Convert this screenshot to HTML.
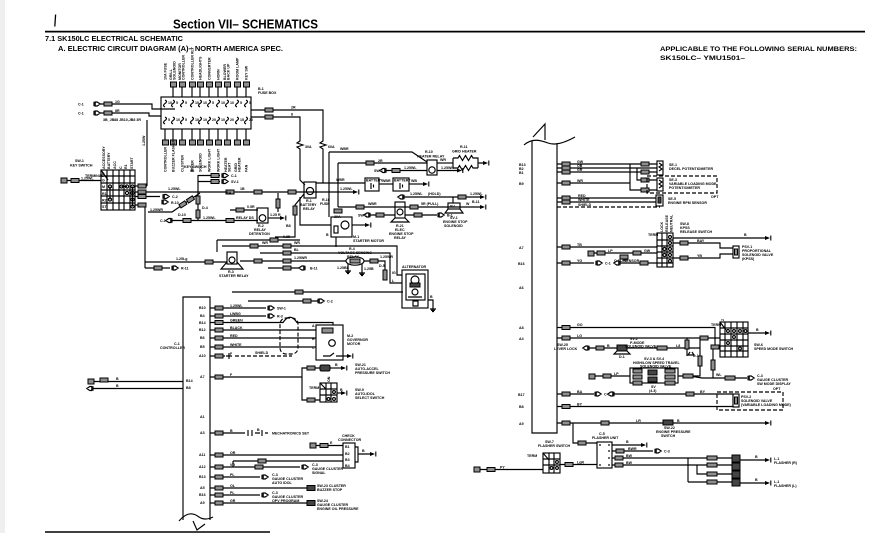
<!DOCTYPE html>
<html><head><meta charset="utf-8">
<style>
html,body{margin:0;padding:0;background:#fff}
body{width:894px;height:533px;overflow:hidden}
svg{display:block}
.w{stroke:#000;stroke-width:1.15;fill:none}
.d{stroke-dasharray:4 2}
.b{fill:#8f8f8f;stroke:#000;stroke-width:1}
.k{fill:#444;stroke:#000;stroke-width:1}
.s{font-family:"Liberation Sans",sans-serif;font-weight:bold;font-size:3.6px;fill:#000}
.m{font-family:"Liberation Sans",sans-serif;font-weight:bold;font-size:4px;fill:#000}
.h{font-family:"Liberation Sans",sans-serif;font-weight:bold;fill:#000}
</style></head><body>
<svg width="894" height="533" viewBox="0 0 894 533" xmlns="http://www.w3.org/2000/svg">
<defs>
<g id="cn" class="w"><path d="M0,-2.2V2.2M1.2,-2h2l3,2-3,2h-2z" fill="#fff"/></g>
<g id="cl" class="w"><path d="M0,-2.2V2.2M-1.2,-2h-2l-3,2 3,2h2z" fill="#fff"/></g>
<g id="ar"><path d="M-5,-2L0,0-5,2z" fill="#000"/><path d="M.8,-2.5V2.5" stroke="#000" stroke-width="1.1"/></g>
<g id="gd" class="w"><path d="M0,0V3M-3,3H3M-2,4.3H2M-1,5.5H1"/></g>
</defs>
<rect x="0" y="0" width="5" height="533" fill="#efefef"/>

<!-- HEADER -->
<path d="M55.6,14.5L54.8,26.5" stroke="#000" stroke-width="1.3"/>
<text class="h" x="173" y="28.3" font-size="12.5" textLength="145" lengthAdjust="spacingAndGlyphs">Section VII– SCHEMATICS</text>
<line x1="45" y1="31.6" x2="865" y2="31.6" stroke="#000" stroke-width="1.7"/>
<text class="h" x="45" y="41" font-size="7" textLength="138" lengthAdjust="spacingAndGlyphs">7.1 SK150LC ELECTRICAL  SCHEMATIC</text>
<text class="h" x="58" y="51" font-size="7" textLength="225" lengthAdjust="spacingAndGlyphs">A. ELECTRIC CIRCUIT DIAGRAM (A)– NORTH AMERICA SPEC.</text>
<text class="h" x="660" y="51" font-size="6.4" textLength="197" lengthAdjust="spacingAndGlyphs">APPLICABLE TO THE FOLLOWING SERIAL NUMBERS:</text>
<text class="h" x="660" y="60" font-size="6.4" textLength="85" lengthAdjust="spacingAndGlyphs">SK150LC– YMU1501–</text>
<line x1="45" y1="532" x2="270" y2="532" stroke="#000" stroke-width="1.6"/>

<!-- FUSE BOX -->
<g>
<rect class="w" x="161" y="97" width="90" height="32"/>
<text class="s" x="258" y="90">B-1</text><text class="s" x="258" y="94">FUSE BOX</text>
<g class="s">
<text transform="translate(166.5,80) rotate(-90)">10A FUSE</text>
<text transform="translate(172,80) rotate(-90)">GRILL</text><text transform="translate(175.5,80) rotate(-90)">SOLENOID</text>
<text transform="translate(181,80) rotate(-90)">MONITOR</text><text transform="translate(184.5,80) rotate(-90)">CONTROLLER</text>
<text transform="translate(193.5,80) rotate(-90)">CONTROLLER RLY</text>
<text transform="translate(201.5,80) rotate(-90)">HEADLIGHTS</text>
<text transform="translate(210.5,80) rotate(-90)">CONVERTER</text>
<text transform="translate(219.5,80) rotate(-90)">HORN</text>
<text transform="translate(226,80) rotate(-90)">BLOWER</text><text transform="translate(229.5,80) rotate(-90)">BACK UP</text>
<text transform="translate(238.5,80) rotate(-90)">ROOM LAMP</text>
<text transform="translate(247.5,80) rotate(-90)">KEY SW</text>
</g>
<g>
<rect class="b" x="170.5" y="82" width="6" height="5"/><rect class="b" x="179.5" y="82" width="6" height="5"/>
<rect class="b" x="189.5" y="82" width="6" height="5"/><rect class="b" x="197.5" y="82" width="6" height="5"/>
<rect class="b" x="206.5" y="82" width="6" height="5"/><rect class="b" x="215.5" y="82" width="6" height="5"/>
<rect class="b" x="224.5" y="82" width="6" height="5"/><rect class="b" x="234.5" y="82" width="6" height="5"/>
<rect class="b" x="243.5" y="82" width="6" height="5"/>
</g>
<path class="w" d="M173,87V97M182,87V97M192,87V97M200,87V97M209,87V97M218,87V97M227,87V97M237,87V97M246,87V97"/>
<g class="w" stroke-width="1">
<path d="M165,100q3,1.5 0,3.5q-3,2 0,3.5M173,100q3,1.5 0,3.5q-3,2 0,3.5M182,100q3,1.5 0,3.5q-3,2 0,3.5M192,100q3,1.5 0,3.5q-3,2 0,3.5M200,100q3,1.5 0,3.5q-3,2 0,3.5M209,100q3,1.5 0,3.5q-3,2 0,3.5M218,100q3,1.5 0,3.5q-3,2 0,3.5M227,100q3,1.5 0,3.5q-3,2 0,3.5M237,100q3,1.5 0,3.5q-3,2 0,3.5M246,100q3,1.5 0,3.5q-3,2 0,3.5"/>
<path d="M165,117q3,1.5 0,3.5q-3,2 0,3.5M173,117q3,1.5 0,3.5q-3,2 0,3.5M182,117q3,1.5 0,3.5q-3,2 0,3.5M192,117q3,1.5 0,3.5q-3,2 0,3.5M200,117q3,1.5 0,3.5q-3,2 0,3.5M209,117q3,1.5 0,3.5q-3,2 0,3.5M218,117q3,1.5 0,3.5q-3,2 0,3.5M227,117q3,1.5 0,3.5q-3,2 0,3.5M237,117q3,1.5 0,3.5q-3,2 0,3.5M246,117q3,1.5 0,3.5q-3,2 0,3.5"/>
</g>
<g class="s" font-size="2.8">
<text x="168" y="104">10</text><text x="176" y="104">5</text><text x="185" y="104">5</text><text x="195" y="104">10</text><text x="203" y="104">10</text><text x="212" y="104">5</text><text x="221" y="104">10</text><text x="230" y="104">10</text><text x="240" y="104">5</text><text x="249" y="104">5</text>
<text x="168" y="121">5</text><text x="176" y="121">10</text><text x="185" y="121">5</text><text x="195" y="121">10</text><text x="203" y="121">10</text><text x="212" y="121">20</text><text x="221" y="121">10</text><text x="230" y="121">20</text><text x="240" y="121">15</text><text x="249" y="121">20</text>
</g>
<path class="w" d="M165,129V140M173,129V140M182,129V140M192,129V140M200,129V140M209,129V140M218,129V140M227,129V140M237,129V140M246,129V140"/>
<g>
<rect class="b" x="162.5" y="140" width="6" height="5"/><rect class="b" x="170.5" y="140" width="6" height="5"/><rect class="b" x="179.5" y="140" width="6" height="5"/><rect class="b" x="189.5" y="140" width="6" height="5"/><rect class="b" x="197.5" y="140" width="6" height="5"/><rect class="b" x="206.5" y="140" width="6" height="5"/><rect class="b" x="215.5" y="140" width="6" height="5"/><rect class="b" x="224.5" y="140" width="6" height="5"/><rect class="b" x="234.5" y="140" width="6" height="5"/><rect class="b" x="243.5" y="140" width="6" height="5"/>
</g>
<g class="s">
<text transform="translate(166.5,172) rotate(-90)">CONTROLLER</text>
<text transform="translate(174.5,172) rotate(-90)">BUZZER FLASHER</text>
<text transform="translate(183.5,172) rotate(-90)">CLUSTER</text>
<text transform="translate(193.5,172) rotate(-90)">WIPER</text>
<text transform="translate(201.5,172) rotate(-90)">SOLENOID</text>
<text transform="translate(210.5,172) rotate(-90)">WORK LIGHT</text>
<text transform="translate(219.5,172) rotate(-90)">WORK LIGHT</text>
<text transform="translate(227,172) rotate(-90)">HEATER</text><text transform="translate(230.5,172) rotate(-90)">SEAT</text>
<text transform="translate(237,172) rotate(-90)">GRID</text><text transform="translate(240.5,172) rotate(-90)">HEATER</text>
<text transform="translate(247.5,172) rotate(-90)">FAN</text>
</g>
</g>

<!-- left top C-1 inputs -->
<text class="s" x="78" y="105.5">C-1</text>
<use href="#cn" x="94" y="104"/>
<rect class="b" x="104" y="102" width="8" height="4"/><text class="s" x="115" y="103">1G</text>
<path class="w" d="M100,104H104M112,104H152V109H175"/>
<text class="s" x="78" y="114.5">C-1</text>
<use href="#cn" x="94" y="113"/>
<rect class="b" x="104" y="111" width="8" height="4"/><text class="s" x="115" y="112">8R</text>
<path class="w" d="M100,113H104M112,113H149V116H161"/>
<text class="s" x="103" y="121" font-size="2.9">3B_JB88  JB10,JB8   3R</text>
<path class="w" d="M147,120V186"/>
<text class="s" transform="translate(145,146) rotate(-90)">1.25W</text>

<!-- fuse box right lines -->
<path class="w" d="M251,110H323V141l-3,2 6,2-6,2 3,2V183"/>
<rect class="b" x="265" y="108" width="8" height="4"/><text class="s" x="291" y="108.5">2R</text>
<path class="w" d="M251,117H300V141l-3,2 6,2-6,2 3,2V180L305,185"/>
<rect class="b" x="265" y="115" width="8" height="4"/><text class="s" x="291" y="115.5">8</text>
<text class="s" x="305" y="148">30A</text><text class="s" x="328" y="148">60A</text>

<!-- KEY SWITCH SW-1 -->
<text class="s" x="75" y="162">SW-1</text><text class="s" x="70" y="166.5">KEY SWITCH</text>
<g class="s">
<text transform="translate(105,169) rotate(-90)">ACCESSORY</text>
<text transform="translate(110,169) rotate(-90)">BATTERY</text>
<text transform="translate(116,169) rotate(-90)">ACC</text>
<text transform="translate(122,169) rotate(-90)">C</text>
<text transform="translate(127,169) rotate(-90)">R1</text>
<text transform="translate(133,169) rotate(-90)">START</text>
</g>
<rect class="w" x="101" y="170" width="34" height="40" stroke-width="1.3"/>
<path class="w" d="M107,170V210M113,170V210M119,170V210M124,170V210M130,170V210M101,176H135M101,183H135M101,190H135M101,196H135M101,203H135" stroke-width=".8"/>
<path class="w" d="M101,170L108,180"/>
<g class="w" fill="#fff">
<circle cx="110" cy="186.5" r="1.6"/><circle cx="121.5" cy="186.5" r="1.6"/><circle cx="127" cy="186.5" r="1.6"/><circle cx="132.5" cy="186.5" r="1.6"/>
<circle cx="127" cy="193" r="1.6"/><circle cx="132.5" cy="193" r="1.6"/><circle cx="110" cy="199.5" r="1.6"/><circle cx="132.5" cy="199.5" r="1.6"/><circle cx="132.5" cy="206.5" r="1.6"/>
</g>
<path class="w" d="M110,186.5V199.5M132.5,186.5V206.5M121.5,186.5H127" stroke-width=".9"/>
<text class="s" x="102" y="175">B</text><text class="s" x="102" y="181.5">G</text><text class="s" x="102" y="188">M</text><text class="s" x="102" y="195">R1</text><text class="s" x="102" y="201.5">R2</text><text class="s" x="102" y="208">ST</text>
<text class="s" x="85" y="177">TERMINAL</text>
<rect class="b" x="61" y="178" width="6" height="5"/>
<path class="w" d="M67,180.5H101"/>
<rect class="b" x="71" y="178.5" width="8" height="4"/><text class="s" x="81" y="179.5">1.25WL</text>

<!-- key switch outputs -->
<path class="w" d="M135,186H147"/><rect class="b" x="138" y="184" width="8" height="4"/>
<path class="w" d="M135,192H355"/><use href="#ar" x="358" y="192"/>
<rect class="b" x="138" y="190" width="8" height="4"/>
<text class="s" x="168" y="190">1.25WL</text>
<rect class="b" x="226" y="190" width="8" height="4"/><text class="s" x="240" y="190">1B</text>
<rect class="b" x="254" y="190" width="8" height="4"/>
<rect class="b" x="288" y="190" width="8" height="4"/>
<text class="s" x="340" y="190">1.25WL</text>
<path class="w" d="M135,196.5H160"/><rect class="b" x="138" y="194.5" width="8" height="4"/>
<use href="#cn" x="163" y="196.5"/><text class="s" x="172" y="198">C-2</text>
<use href="#cn" x="162" y="202"/><text class="s" x="171" y="204">R-10</text>
<path class="w" d="M135,205H145V268"/><rect class="b" x="138" y="203" width="8" height="4"/>
<path class="w" d="M148,212H172L200,193"/>
<text class="s" x="150" y="211">1.25WR</text>
<g transform="translate(185,203) rotate(-33)"><rect class="b" x="-6" y="-2" width="7" height="4"/><rect class="b" x="3" y="-2" width="7" height="4"/></g>
<text class="s" x="178" y="216">D-10</text>
<path class="w" d="M198,175V220"/>
<rect class="b" x="196" y="196" width="4" height="8"/><rect class="b" x="196" y="210" width="4" height="8"/>
<text class="s" x="202" y="209">D-4</text>
<text class="s" x="184" y="168">KEY SWITCH</text><text class="s" x="190" y="172">Sx</text>
<path class="w" d="M198,175.5H220"/><rect class="b" x="211" y="173.5" width="8" height="4"/><use href="#cn" x="222" y="175.5"/><text class="s" x="231" y="177">C-1</text>
<path class="w" d="M198,181.5H220"/><rect class="b" x="211" y="179.5" width="8" height="4"/><use href="#cn" x="222" y="181.5"/><text class="s" x="231" y="183">SV-1</text>
<text class="s" x="226" y="194">BA</text>
<!-- R-2 row -->
<use href="#cl" x="172" y="220.5"/><text class="s" x="160" y="222">C-1</text>
<path class="w" d="M172,220.5H258"/>
<rect class="b" x="183" y="218.5" width="8" height="4"/><text class="s" x="203" y="219">1.25WL</text>
<rect class="b" x="226" y="218.5" width="8" height="4"/><text class="s" x="236" y="219">RELAY DS</text>
<path class="w" d="M230,210H258"/><rect class="b" x="236" y="208" width="8" height="4"/><text class="s" x="247" y="208">0.5R</text>
<rect class="w" x="257" y="208" width="11" height="15" fill="#fff"/><circle class="w" cx="262.5" cy="218" r="3.3"/>
<path class="w" d="M268,218H282"/><use href="#ar" x="285" y="218"/><text class="s" x="270" y="216">1.25 R</text>
<text class="s" x="258" y="227">R-2</text><text class="s" x="254" y="231">RELAY</text><text class="s" x="249" y="235">DETENTION</text>
<path class="w" d="M278,193V212"/><rect class="b" x="276" y="199" width="4" height="9"/>
<!-- R-1 battery relay -->
<rect class="w" x="304" y="182" width="12" height="16" fill="#fff"/><circle class="w" cx="310" cy="191" r="3.6"/>
<text class="s" x="306" y="202">R-1</text><text class="s" x="300" y="206">BATTERY</text><text class="s" x="303" y="210">RELAY</text>
<path class="w" d="M316,183H365"/><text class="s" x="336" y="181">WBR</text>
<path class="w" d="M304,194L295,205V237H275"/>
<rect class="b" x="293" y="206" width="4" height="9"/>
<path class="w" d="M300,197V225H331"/><text class="s" x="286" y="227">B8</text>
<!-- batteries -->
<rect class="w" x="365" y="178" width="14" height="13" fill="#fff"/><text class="s" x="366" y="181.5" font-size="2.9">BATTERY</text><path class="w" d="M371,183V189M373.5,184.5V187.5"/>
<path class="w" d="M379,184H393"/><text class="s" x="382" y="182">WBR</text>
<rect class="w" x="393" y="178" width="16" height="13" fill="#fff"/><text class="s" x="394" y="181.5" font-size="2.9">BATTERY</text><path class="w" d="M400,183V189M402.5,184.5V187.5"/>
<path class="w" d="M409,184H425"/><use href="#ar" x="428" y="184"/><text class="s" x="411" y="182">WB</text>
<!-- heater relay -->
<path class="w" d="M329,152H412L427,162M329,152V217"/>
<text class="s" x="340" y="150">WBR</text>
<path class="w" d="M338,163H427M338,163V207"/>
<rect class="b" x="366" y="161" width="8" height="4"/><text class="s" x="378" y="162">2R</text>
<rect class="w" x="427" y="160" width="10" height="15" fill="#fff"/><circle class="w" cx="432" cy="170" r="3.2"/>
<text class="s" x="425" y="153">R-10</text><text class="s" x="417" y="157.5">HEATER RELAY</text>
<path class="w" d="M437,163H453"/><text class="s" x="440" y="161">WR</text>
<path class="w" d="M453,158V168M453,158H458l1.5,-2.5 3,5 3,-5 3,5 3,-5 1.5,2.5H478V168M453,168H458l1.5,-2.5 3,5 3,-5 3,5 3,-5 1.5,2.5H478M478,163H485"/>
<use href="#ar" x="488" y="163"/>
<text class="s" x="460" y="148">R-11</text><text class="s" x="452" y="152.5">GRID HEATER</text>
<use href="#cl" x="386" y="170.5"/><text class="s" x="374" y="172">SW-1</text>
<path class="w" d="M386,170.5H427"/><rect class="b" x="392" y="168.5" width="8" height="4"/><text class="s" x="404" y="169">1.25WL</text>
<path class="w" d="M437,170.5H459"/><use href="#ar" x="462" y="170.5"/><text class="s" x="441" y="169">1.25WL</text>
<!-- hold line -->
<use href="#cl" x="404" y="197"/><path class="w" d="M404,197H482"/><use href="#ar" x="485" y="197"/>
<text class="s" x="410" y="195">1.25WL</text><text class="s" x="428" y="195">(HOLD)</text>
<rect class="b" x="458" y="195" width="8" height="4"/><text class="s" x="470" y="195">1.25WL</text><text class="s" x="472" y="203">B-11</text>
<path class="w" d="M453,197V203"/>
<!-- engine stop line -->
<text class="s" x="322" y="201">R-16</text><text class="s" x="320" y="205">FUSE</text>
<rect class="b" x="334" y="209" width="8" height="4"/><text class="s" x="334" y="218">30A</text>
<path class="w" d="M338,207H482"/><use href="#ar" x="485" y="207"/>
<rect class="b" x="356" y="205" width="8" height="4"/><text class="s" x="368" y="205">WBR</text>
<rect class="b" x="410" y="205" width="8" height="4"/><text class="s" x="421" y="205">5R (PULL)</text>
<rect class="w" x="448" y="203" width="12" height="6" fill="#fff"/><path class="w" d="M448,209L445,213H463L460,209"/><text class="s" x="450" y="207.5">SV</text>
<text class="s" x="466" y="205">W</text>
<text class="s" x="450" y="219">SV-1</text><text class="s" x="443" y="223">ENGINE STOP</text><text class="s" x="444" y="227">SOLENOID</text>
<rect class="w" x="395" y="202" width="10" height="16" fill="#fff"/><circle class="w" cx="400" cy="212" r="3"/><path class="w" d="M395,218L391,222H409L405,218"/>
<text class="s" x="396" y="227">R-21</text><text class="s" x="395" y="231">ELEC</text><text class="s" x="389" y="235">ENGINE STOP</text><text class="s" x="394" y="239">RELAY</text>
<use href="#cl" x="370" y="215"/><text class="s" x="358" y="216.5">SW-1</text>
<path class="w" d="M370,215H395"/><rect class="b" x="376" y="213" width="8" height="4"/>
<path class="w" d="M405,215H437"/><rect class="b" x="414" y="213" width="8" height="4"/><use href="#cn" x="438" y="215"/><text class="s" x="447" y="216.5">B-1</text>
<!-- starter motor -->
<rect class="w" x="331" y="217" width="21" height="20" fill="#fff"/><circle class="w" cx="345" cy="225" r="4"/><rect class="w" x="334" y="226" width="4" height="7"/>
<path class="w" d="M352,225H367"/><use href="#ar" x="370" y="225"/>
<text class="s" x="353" y="238">M-1</text><text class="s" x="353" y="242">STARTER MOTOR</text>
<text class="s" x="326" y="236">B</text>
<path class="w" d="M336,237V247"/>
<!-- lower wires -->
<path class="w" d="M217,240H300M217,240V252"/>
<rect class="b" x="270" y="238" width="8" height="4"/><text class="s" x="283" y="238">0.85</text>
<path class="w" d="M222,246H397V275H402"/>
<rect class="b" x="250" y="244" width="8" height="4"/><text class="s" x="262" y="244">WR</text>
<rect class="b" x="283" y="244" width="8" height="4"/><text class="s" x="294" y="244">WR</text>
<path class="w" d="M260,253H390V283H402"/>
<rect class="b" x="283" y="251" width="8" height="4"/><text class="s" x="294" y="251">BL</text>
<path class="w" d="M240,261H346"/>
<rect class="b" x="283" y="259" width="8" height="4"/><text class="s" x="294" y="259">1.25WR</text>
<path class="w" d="M268,268H302"/><rect class="b" x="283" y="266" width="8" height="4"/><use href="#cl" x="305" y="268"/><text class="s" x="310" y="269.5">B-11</text>
<!-- R-3 starter relay -->
<rect class="w" x="227" y="252" width="10" height="12" fill="#fff"/><circle class="w" cx="232" cy="260" r="3"/>
<path class="w" d="M227,262L221,269H243L237,262"/>
<text class="s" x="228" y="273">R-3</text><text class="s" x="219" y="277">STARTER RELAY</text>
<path class="w" d="M145,262H227"/>
<text class="s" x="176" y="260">1.25Lg</text><rect class="b" x="205" y="260" width="8" height="4"/>
<rect class="b" x="254" y="259" width="8" height="4"/>
<path class="w" d="M145,268H170"/><rect class="b" x="154" y="266" width="8" height="4"/><use href="#cn" x="172" y="268"/><text class="s" x="181" y="269.5">R-11</text>
<!-- R-4 -->
<ellipse class="w" cx="355" cy="261" rx="9" ry="4.2" fill="#fff"/><rect class="b" x="350" y="259" width="10" height="4"/>
<text class="s" x="349" y="250">R-4</text><text class="s" x="338" y="254">VOLTAGE SENSING</text><text class="s" x="347" y="258">RELAY</text>
<path class="w" d="M348,264V268M362,264V270"/><use href="#gd" x="348" y="268"/><use href="#gd" x="362" y="270"/>
<text class="s" x="337" y="269">1.25BL</text><text class="s" x="364" y="270">1.25B</text>
<path class="w" d="M364,261H385V270"/><rect class="b" x="370" y="259" width="8" height="4"/><text class="s" x="380" y="258">1.25WR</text>
<rect class="b" x="383" y="270" width="4" height="10"/>
<text class="s" x="379" y="267">D-5</text>
<!-- alternator -->
<text class="s" x="402" y="268">ALTERNATOR</text>
<rect class="w" x="402" y="270" width="26" height="38" fill="#fff"/>
<rect class="w" x="406" y="274" width="19" height="26"/>
<circle class="w" cx="415" cy="280" r="4"/><rect class="k" x="410" y="283" width="10" height="4"/>
<circle class="w" cx="415" cy="292" r="3"/><path class="w" d="M408,297H422M413,301H418V306H413Z"/>
<path class="w" d="M428,300H433V306"/><use href="#gd" x="433" y="306"/><text class="s" x="430" y="298">B</text>
<text class="s" x="392" y="274">IG</text><text class="s" x="392" y="282">L</text>

<!-- C-1 CONTROLLER (left bottom) -->
<path class="w" d="M232,292H403"/><rect class="b" x="295" y="290" width="8" height="4"/>
<path class="w" d="M248,301H318"/><rect class="b" x="303" y="299" width="8" height="4"/><use href="#cn" x="318" y="301"/><text class="s" x="327" y="302.5">C-2</text>
<path class="w" d="M183,520V297H210V520" stroke-width="1.2"/>
<path class="w" d="M179,521Q189,509 199,517Q205,521 213,517M193,521L197,530L205,524"/>
<text class="s" x="174" y="345">C-1</text><text class="s" x="160" y="349">CONTROLLER</text>
<g class="s" font-size="3.1">
<text x="199" y="309">B10</text><text x="200" y="317">B4</text><text x="199" y="324">B14</text><text x="199" y="331">B12</text><text x="200" y="339">B6</text><text x="200" y="348">B5</text><text x="199" y="357">A10</text><text x="200" y="378">A7</text><text x="200" y="418">A1</text><text x="200" y="434">A3</text><text x="199" y="456">A11</text><text x="199" y="468">A12</text><text x="199" y="478">B13</text><text x="200" y="489">A5</text><text x="199" y="496">B16</text><text x="200" y="504">A9</text>
<text x="186" y="382">B14</text><text x="186" y="389">B8</text>
</g>
<rect class="b" x="88" y="379" width="6" height="5"/><path class="w" d="M94,381.5H183"/><rect class="b" x="100" y="378" width="8" height="4"/><text class="s" x="116" y="380">B</text>
<use href="#cl" x="93" y="388.5"/><path class="w" d="M93,388.5H183"/><text class="s" x="116" y="387">B</text>
<g>
<path class="w" d="M210,308H266"/><rect class="b" x="215" y="306" width="8" height="4"/><text class="s" x="230" y="307">1.25WL</text><use href="#cn" x="268" y="308"/><text class="s" x="277" y="309.5">SW-1</text>
<path class="w" d="M210,316H266"/><rect class="b" x="215" y="314" width="8" height="4"/><text class="s" x="230" y="315">LWBG</text><use href="#cn" x="268" y="316"/><text class="s" x="277" y="317.5">R-3</text>
<path class="w" d="M210,322.5H283Q290,312 297,322.5H333V325"/><rect class="b" x="215" y="320.5" width="8" height="4"/><text class="s" x="230" y="321.5">GREEN</text>
<path class="w" d="M210,330H316"/><rect class="b" x="215" y="328" width="8" height="4"/><text class="s" x="230" y="329">BLACK</text>
<path class="w" d="M210,338H316"/><rect class="b" x="215" y="336" width="8" height="4"/><text class="s" x="230" y="337">RED</text>
<path class="w" d="M210,347H316"/><rect class="b" x="215" y="345" width="8" height="4"/><text class="s" x="230" y="346">WHITE</text>
<path class="w" d="M210,356H225M229,353V359M226,356H232"/><rect class="b" x="215" y="354" width="8" height="4"/><text class="s" x="230" y="355">F</text>
<path class="w d" d="M235,356H292"/><text class="s" x="255" y="354">SHIELD</text>
<rect class="w d" x="280" y="318" width="18" height="36" rx="6"/>
<rect class="w" x="316" y="325" width="27" height="35" fill="#fff"/><rect class="b" x="322" y="328" width="11" height="5"/><circle class="w" cx="332" cy="343" r="3.3"/>
<path class="w" d="M323,356H330l4,-3M336,356H343"/><text class="s" x="312" y="327">A</text><text class="s" x="312" y="340">B</text><text class="s" x="312" y="349">C</text>
<path class="w" d="M343,356H349"/><use href="#ar" x="352" y="356"/>
<text class="s" x="347" y="337">M-2</text><text class="s" x="347" y="341">GOVERNOR</text><text class="s" x="347" y="345">MOTOR</text>
<path class="w" d="M210,377H302V368H320M302,377V400H320"/><rect class="b" x="215" y="375" width="8" height="4"/><text class="s" x="230" y="376">F</text>
<rect class="b" x="307" y="366" width="8" height="4"/><rect class="k" x="320" y="365" width="10" height="6" rx="1.5"/>
<path class="w" d="M330,368H343"/><use href="#ar" x="346" y="368"/><text class="s" x="335" y="366">B</text>
<text class="s" x="355" y="366">SW-21</text><text class="s" x="355" y="370">AUTO-ACCEL</text><text class="s" x="355" y="374">PRESSURE SWITCH</text>
<rect class="b" x="307" y="398" width="8" height="4"/>
<rect class="w" x="320" y="383" width="17" height="19" stroke-width="1.2"/><path class="w" d="M326,383V402M331,383V402M320,389H337M320,395H337M320,383L326,389" stroke-width=".8"/>
<circle class="w" cx="334" cy="392" r="1.4"/><circle class="w" cx="334" cy="399" r="1.4"/><circle class="w" cx="328.5" cy="399" r="1.4"/>
<text class="s" x="309" y="389">TERM</text><text class="s" transform="translate(330,382) rotate(-90)">ON</text>
<path class="w" d="M337,393H343"/><use href="#ar" x="346" y="393"/><text class="s" x="340" y="391">B</text>
<text class="s" x="355" y="391">SW-9</text><text class="s" x="355" y="395">AUTO-IDOL</text><text class="s" x="355" y="399">SELECT SWITCH</text>
<path class="w" d="M210,433H245M248,430V436M252,430V436M255,433H260M262,430V436M265,433H268"/><rect class="b" x="215" y="431" width="8" height="4"/><text class="s" x="230" y="432">B</text><text class="s" x="257" y="431">B</text>
<text class="s" x="272" y="434.5">MECHATRONICS SET</text>
<text class="s" x="342" y="437">CHECK</text><text class="s" x="338" y="441">CONNECTOR</text>
<rect class="w" x="343" y="443" width="12" height="25" fill="#fff"/>
<g class="s" font-size="3"><text x="345" y="448">B1</text><text x="345" y="455">B2</text><text x="345" y="461">B3</text><text x="345" y="467">B4</text></g>
<path class="w" d="M355,447H358V462H355M358,454H372"/><use href="#ar" x="375" y="454"/><text class="s" x="362" y="452">B</text>
<rect class="b" x="310" y="443" width="6" height="5"/><path class="w" d="M316,445.5H343"/><rect class="b" x="320" y="443.5" width="8" height="4"/><text class="s" x="330" y="444">E</text>
<path class="w" d="M210,455H343"/><rect class="b" x="215" y="453" width="8" height="4"/><text class="s" x="230" y="454">OR</text>
<path class="w" d="M233,461H343M233,461V467"/><rect class="b" x="258" y="459" width="8" height="4"/>
<path class="w" d="M210,467H300"/><rect class="b" x="215" y="465" width="8" height="4"/><text class="s" x="230" y="466">VG</text><rect class="b" x="255" y="465" width="8" height="4"/><use href="#cn" x="302" y="467"/>
<text class="s" x="312" y="466">C-3</text><text class="s" x="312" y="470">GAUGE CLUSTER</text><text class="s" x="312" y="474">SIGNAL</text>
<path class="w" d="M210,477H260"/><rect class="b" x="215" y="475" width="8" height="4"/><text class="s" x="230" y="476">PL</text><use href="#cn" x="262" y="477"/>
<text class="s" x="272" y="476">C-3</text><text class="s" x="272" y="480">GAUGE CLUSTER</text><text class="s" x="272" y="484">AUTO IDOL</text>
<path class="w" d="M210,488H307"/><rect class="b" x="215" y="486" width="8" height="4"/><text class="s" x="230" y="487">OL</text><rect class="k" x="307" y="485.5" width="8" height="5"/>
<text class="s" x="317" y="487">SW-23 CLUSTER</text><text class="s" x="317" y="491">BUZZER STOP</text>
<path class="w" d="M210,495H260"/><rect class="b" x="215" y="493" width="8" height="4"/><text class="s" x="230" y="494">PL</text><use href="#cn" x="262" y="495"/>
<text class="s" x="272" y="494">C-3</text><text class="s" x="272" y="498">GAUGE CLUSTER</text><text class="s" x="272" y="502">OPV PROGRAM</text>
<path class="w" d="M210,503H307"/><rect class="b" x="215" y="501" width="8" height="4"/><text class="s" x="230" y="502">GR</text><rect class="k" x="307" y="500.5" width="8" height="5"/>
<text class="s" x="317" y="502">SW-24</text><text class="s" x="317" y="506">GAUGE CLUSTER</text><text class="s" x="317" y="510">ENGINE OIL PRESSURE</text>
</g>

<!-- RIGHT COLUMN -->
<path class="w" d="M533,137L545,124V140"/>
<path class="w" d="M524,145C532,138 540,140 548,143C556,146 566,142 575,137"/>
<path class="w" d="M532,141V433H557V143" stroke-width="1.2"/>
<g class="s" font-size="3.1">
<text x="519" y="166">B13</text><text x="519" y="170">B2</text><text x="519" y="174">B1</text><text x="519" y="185">B9</text>
<text x="519" y="249">A7</text><text x="518" y="265">B16</text><text x="519" y="289">A6</text>
<text x="519" y="329">A8</text><text x="519" y="340">A4</text><text x="518" y="396">B17</text><text x="519" y="408">B8</text><text x="519" y="425">A9</text>
</g>
<path class="w" d="M557,164H657"/><rect class="b" x="562" y="162" width="8" height="4"/><text class="s" x="577" y="163">GW</text><rect class="b" x="641" y="162" width="8" height="4"/>
<path class="w" d="M557,168H657"/><rect class="b" x="562" y="166" width="8" height="4"/><text class="s" x="577" y="167">OB</text>
<path class="w" d="M557,172H657"/><rect class="b" x="562" y="170" width="8" height="4"/><text class="s" x="577" y="171">GR</text><rect class="b" x="641" y="170" width="8" height="4"/>
<path class="w" d="M557,183H630V164M630,183V190H657M637,168V180H657"/><rect class="b" x="562" y="181" width="8" height="4"/><text class="s" x="577" y="182">WR</text>
<rect class="b" x="641" y="178" width="8" height="4"/><rect class="b" x="641" y="188" width="8" height="4"/>
<rect class="w" x="657" y="161" width="6" height="14" fill="#fff"/><path class="w" d="M659,163l3,2-3,2 3,2-3,2"/>
<text class="s" x="669" y="166">SE-1</text><text class="s" x="669" y="170">DECEL POTENTIOMETER</text>
<rect class="w d" x="647" y="176" width="70" height="17"/>
<rect class="w" x="657" y="178" width="6" height="13" fill="#fff"/><path class="w" d="M659,180l3,2-3,2 3,2-3,2"/>
<text class="s" x="669" y="181">SE-3</text><text class="s" x="669" y="185">VARIABLE LOADING MODE</text><text class="s" x="669" y="189">POTENTIOMETER</text>
<text class="s" x="711" y="198">OPT</text>
<path class="w" d="M557,198H656"/><rect class="b" x="562" y="196" width="8" height="4"/><text class="s" x="578" y="197">RED</text>
<path class="w" d="M557,202H656"/><rect class="b" x="562" y="200" width="8" height="4"/><text class="s" x="578" y="201">WHITE</text>
<path class="w d" d="M557,207H660"/><text class="s" x="578" y="206">SHIELD</text>
<rect class="w" x="656" y="195" width="7" height="11" fill="#fff"/><rect class="k" x="658" y="197" width="3" height="6"/>
<text class="s" x="668" y="200">SE-5</text><text class="s" x="668" y="204">ENGINE RPM SENSOR</text>
<g class="s"><text transform="translate(663,232) rotate(-90)">LOCK</text><text transform="translate(668,232) rotate(-90)">RELEASE</text><text transform="translate(672.5,232) rotate(-90)">NEUTRAL</text></g>
<text class="s" x="648" y="236">TERM</text>
<rect class="w" x="657" y="233" width="16" height="34" stroke-width="1.2"/>
<path class="w" d="M662,233V267M667,233V267M657,240H673M657,246H673M657,252H673M657,258H673M657,263H673" stroke-width=".7"/>
<g class="w" fill="#fff"><circle cx="670" cy="237" r="1.5"/><circle cx="670" cy="243" r="1.5"/><circle cx="664.5" cy="249" r="1.5"/><circle cx="670" cy="249" r="1.5"/><circle cx="664.5" cy="255" r="1.5"/><circle cx="670" cy="255" r="1.5"/><circle cx="670" cy="261" r="1.5"/></g>
<text class="s" x="680" y="225">SW-8</text><text class="s" x="680" y="229">KPSS</text><text class="s" x="680" y="233">RELEASE SWITCH</text>
<path class="w" d="M673,238H767"/><use href="#ar" x="770" y="238"/><text class="s" x="744" y="236">B</text>
<path class="w" d="M673,243H720V248H733"/><rect class="b" x="680" y="241" width="8" height="4"/><text class="s" x="697" y="242">BAY</text>
<path class="w" d="M673,258H720V254H733"/><rect class="b" x="680" y="256" width="8" height="4"/><text class="s" x="697" y="257">YB</text>
<rect class="w" x="733" y="246" width="6" height="12" fill="#fff"/><rect class="b" x="734.5" y="249" width="3" height="6"/>
<text class="s" x="742" y="248">PSV-1</text><text class="s" x="742" y="252">PROPORTIONAL</text><text class="s" x="742" y="256">SOLENOID VALVE</text><text class="s" x="742" y="260">(KPSS)</text>
<path class="w" d="M557,247H657"/><rect class="b" x="562" y="245" width="8" height="4"/><text class="s" x="577" y="246">TB</text>
<rect class="b" x="588" y="251" width="6" height="5"/><path class="w" d="M594,253H657"/><rect class="b" x="597" y="251" width="8" height="4"/><text class="s" x="608" y="252">LP</text>
<rect class="b" x="620" y="255" width="8" height="4"/><text class="s" x="614" y="262">C-SUPP</text>
<rect class="b" x="633" y="251" width="8" height="4"/><text class="s" x="644" y="252">GW</text>
<path class="w" d="M557,263H594"/><rect class="b" x="562" y="261" width="8" height="4"/><text class="s" x="577" y="262">YG</text><use href="#cn" x="596" y="263"/><text class="s" x="605" y="264.5">C-1</text>
<use href="#cl" x="620" y="263"/><path class="w" d="M620,263H657"/><rect class="b" x="640" y="261" width="8" height="4"/><text class="s" x="624" y="262">SENSOR</text>
<!-- SW-6 -->
<path class="w" d="M557,327.5H715V347"/><rect class="b" x="562" y="325.5" width="8" height="4"/><text class="s" x="577" y="326">GO</text>
<rect class="b" x="711" y="345" width="8" height="4"/>
<path class="w" d="M557,338H720"/><rect class="b" x="562" y="336" width="8" height="4"/><text class="s" x="577" y="337">LG</text><rect class="b" x="700" y="336" width="8" height="4"/>
<g class="s"><text transform="translate(724,321) rotate(-90)">Z</text></g>
<text class="s" x="711" y="326">TERM</text>
<rect class="w" x="720" y="322" width="28" height="35" stroke-width="1.2"/>
<path class="w" d="M725,322V357M731,322V357M737,322V357M743,322V357M720,328H748M720,334H748M720,340H748M720,346H748M720,351H748M720,322L726,330" stroke-width=".7"/>
<g class="w" fill="#fff"><circle cx="728" cy="331" r="1.4"/><circle cx="734" cy="331" r="1.4"/><circle cx="740" cy="331" r="1.4"/><circle cx="745.5" cy="331" r="1.4"/><circle cx="734" cy="337" r="1.4"/><circle cx="728" cy="343" r="1.4"/><circle cx="740" cy="348.5" r="1.4"/></g>
<path class="w" d="M748,333H767"/><use href="#ar" x="770" y="333"/><text class="s" x="756" y="331">B</text>
<text class="s" x="754" y="346">SW-6</text><text class="s" x="754" y="350">SPEED MODE SWITCH</text>
<text class="s" x="557" y="346">SW-25</text><text class="s" x="554" y="350">LEVER LOCK</text>
<use href="#cl" x="589" y="348"/><path class="w" d="M589,348H617"/><rect class="b" x="596" y="346" width="8" height="4"/><text class="s" x="607" y="347">B</text>
<rect class="k" x="617" y="345" width="10" height="6"/><path class="w" d="M617,351L614,354H630L627,351"/><text class="s" x="619" y="358">D-1</text>
<text class="s" x="630" y="340">SV-2</text><text class="s" x="630" y="344">P-MODE</text><text class="s" x="625" y="347.5">SOLENOID VALVE</text>
<path class="w" d="M627,348H700"/><rect class="b" x="657" y="346" width="10" height="4"/><text class="s" x="676" y="347">L8</text>
<path class="w" d="M687,338V356M700,338V376H690M713,349V378"/>
<rect class="b" x="685" y="340" width="4" height="9"/><rect class="b" x="698" y="356" width="4" height="10"/><rect class="b" x="711" y="360" width="4" height="10"/>
<path class="w" d="M690,352L688,355H694L692,352"/><text class="s" x="693" y="357">D-1</text>
<text class="s" x="644" y="360">SV-3 &amp; SV-4</text><text class="s" x="633" y="364">HIGH/LOW SPEED TRAVEL</text><text class="s" x="640" y="367.5">SOLENOID VALVE</text>
<rect class="w" x="630" y="368" width="48" height="15"/>
<rect class="b" x="633" y="369" width="9" height="4"/><rect class="b" x="633" y="375" width="9" height="4"/><rect class="b" x="633" y="381" width="9" height="4"/>
<rect class="k" x="648" y="370" width="9" height="5"/><rect class="k" x="648" y="377" width="9" height="5"/>
<rect class="b" x="665" y="369" width="10" height="4"/><rect class="b" x="665" y="375" width="10" height="4"/><rect class="b" x="665" y="381" width="10" height="4"/>
<text class="s" x="651" y="388">SV</text><text class="s" x="649" y="392">(4.3)</text>
<rect class="b" x="589" y="374" width="6" height="5"/><path class="w" d="M595,376H630"/><rect class="b" x="603" y="374" width="8" height="4"/><text class="s" x="614" y="375">LP</text>
<path class="w" d="M678,376H690L702,378H747"/><rect class="b" x="683" y="374" width="10" height="4"/>
<text class="s" x="716" y="376">WL</text><rect class="b" x="725" y="376" width="10" height="4"/>
<use href="#cn" x="748" y="378"/><text class="s" x="757" y="377">C-3</text><text class="s" x="757" y="381">GAUGE CLUSTER</text><text class="s" x="757" y="385">SW MODE DISPLAY</text>
<!-- PSV-2 -->
<path class="w" d="M557,394H594"/><rect class="b" x="562" y="392" width="8" height="4"/><text class="s" x="577" y="393">BA</text><use href="#cn" x="595" y="394"/><text class="s" x="604" y="395.5">C-1</text>
<use href="#cl" x="614" y="394"/><path class="w" d="M614,394H733"/><rect class="b" x="686" y="392" width="8" height="4"/><text class="s" x="700" y="393">BY</text>
<path class="w" d="M557,406.5H733"/><rect class="b" x="562" y="404.5" width="8" height="4"/><text class="s" x="577" y="405.5">BY</text>
<rect class="w d" x="717" y="392" width="66" height="18"/>
<rect class="w" x="733" y="394" width="6" height="13" fill="#fff"/><rect class="b" x="734.5" y="397" width="3" height="7"/>
<text class="s" x="741" y="398">PSV-2</text><text class="s" x="741" y="402">SOLENOID VALVE</text><text class="s" x="741" y="406">(VARIABLE LOADING MODE)</text>
<text class="s" x="773" y="390">OPT</text>
<!-- A9 / flasher -->
<path class="w" d="M557,423H767"/><use href="#ar" x="770" y="423"/>
<rect class="b" x="562" y="421" width="8" height="4"/><rect class="b" x="601" y="421" width="8" height="4"/><text class="s" x="636" y="422">LR</text>
<rect class="k" x="663" y="420" width="10" height="5"/><text class="s" x="677" y="422">B</text>
<text class="s" x="664" y="429">SW-22</text><text class="s" x="656" y="433">ENGINE PRESSURE</text><text class="s" x="661" y="437">SWITCH</text>
<path class="w" d="M573,423V443H597"/><rect class="b" x="578" y="441" width="8" height="4"/>
<text class="s" x="599" y="435">C-5</text><text class="s" x="592" y="439">FLASHER UNIT</text>
<rect class="w" x="597" y="442" width="15" height="26" fill="#fff"/>
<g fill="#000"><circle cx="600" cy="445" r=".9"/><circle cx="609" cy="445" r=".9"/><circle cx="609" cy="451" r=".9"/><circle cx="609" cy="458" r=".9"/><circle cx="600" cy="465" r=".9"/><circle cx="609" cy="465" r=".9"/></g>
<path class="w" d="M612,445H643"/><use href="#ar" x="646" y="445"/><text class="s" x="626" y="443">B</text>
<path class="w" d="M612,451H653"/><rect class="b" x="616" y="449" width="8" height="4"/><text class="s" x="628" y="450">BWR</text><use href="#cn" x="655" y="451"/><text class="s" x="664" y="452.5">C-3</text>
<path class="w" d="M612,458H732"/><rect class="b" x="615" y="456" width="8" height="4"/><text class="s" x="626" y="457">BW</text><rect class="b" x="707" y="456" width="10" height="4"/>
<path class="w" d="M612,465H732"/><rect class="b" x="615" y="463" width="8" height="4"/><text class="s" x="626" y="464">BW</text><rect class="b" x="707" y="463" width="10" height="4"/>
<path class="w" d="M688,458V482M697,465V474H732M688,482H732"/><rect class="b" x="707" y="472" width="10" height="4"/><rect class="b" x="707" y="480" width="10" height="4"/>
<rect class="k" x="732" y="455" width="8" height="7"/><rect class="k" x="732" y="463" width="8" height="7"/><rect class="k" x="732" y="471" width="8" height="7"/><rect class="k" x="732" y="479" width="8" height="7"/>
<path class="w" d="M740,460H767"/><use href="#ar" x="770" y="460"/><text class="s" x="755" y="458">B</text>
<text class="s" x="774" y="460">L-1</text><text class="s" x="774" y="464">FLASHER (R)</text>
<path class="w" d="M740,483H767"/><use href="#ar" x="770" y="483"/><text class="s" x="755" y="481">B</text>
<text class="s" x="774" y="483">L-1</text><text class="s" x="774" y="487">FLASHER (L)</text>
<text class="s" x="545" y="443">SW-7</text><text class="s" x="538" y="447">FLASHER SWITCH</text>
<text class="s" x="527" y="457">TERM</text>
<rect class="w" x="543" y="453" width="17" height="20" stroke-width="1.2"/>
<path class="w" d="M549,453V473M554,453V473M543,459H560M543,465H560M543,453L549,460" stroke-width=".7"/>
<g class="w" fill="#fff"><circle cx="557" cy="462" r="1.4"/><circle cx="557" cy="468" r="1.4"/><circle cx="551.5" cy="468" r="1.4"/></g>
<path class="w" d="M560,464.5H597"/><rect class="b" x="565" y="462.5" width="8" height="4"/><text class="s" x="577" y="463.5">LgR</text>
<rect class="b" x="474" y="467" width="6" height="5"/><path class="w" d="M480,469.5H543"/><rect class="b" x="487" y="467.5" width="8" height="4"/><text class="s" x="500" y="468.5">PY</text>
</svg>
</body></html>
